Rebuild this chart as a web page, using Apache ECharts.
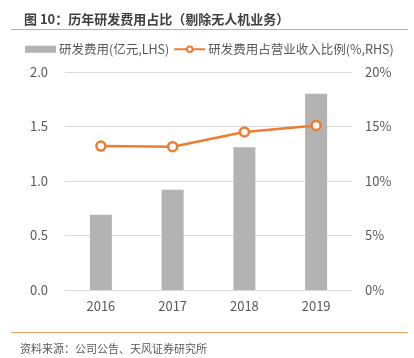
<!DOCTYPE html>
<html><head><meta charset="utf-8">
<script src="https://cdn.jsdelivr.net/npm/echarts@6/dist/echarts.min.js"></script>
<style>html,body{margin:0;padding:0;background:#fff}#c{width:414px;height:358px}</style>
</head><body><div id="c"></div>
<script>
var categories = ['2016', '2017', '2018', '2019'];
var rdExpense = [0.69, 0.92, 1.31, 1.80];
var rdRatio = [13.2, 13.15, 14.5, 15.1];
var leftTicks = [0, 0.5, 1.0, 1.5, 2.0];
var rightTicks = [0, 5, 10, 15, 20];
var titleText = '图 10：历年研发费用占比（剔除无人机业务）';
var sourceText = '资料来源：公司公告、天风证券研究所';
var seriesNames = ['研发费用(亿元,LHS)', '研发费用占营业收入比例(%,RHS)'];

var font = '"Noto Sans CJK SC", "Microsoft YaHei", sans-serif';
var chart = echarts.init(document.getElementById('c'), null, {renderer: 'canvas'});
chart.setOption({
  animation: false,
  textStyle: {fontFamily: font},
  title: {text: titleText, left: 19, top: 8,
    textStyle: {fontSize: 13, fontWeight: 'bold', color: '#404040', fontFamily: font}},
  graphic: [
    {type: 'line', shape: {x1: 11, y1: 29.5, x2: 408, y2: 29.5}, style: {stroke: '#F0A35E', lineWidth: 1.2}},
    {type: 'line', shape: {x1: 11, y1: 332.5, x2: 408, y2: 332.5}, style: {stroke: '#F0A35E', lineWidth: 1.2}},
    {type: 'text', left: 20, top: 343, style: {text: sourceText, fontSize: 11, fill: '#595959', fontFamily: font}}
  ],
  legend: {
    top: 38, left: 20, width: 394, padding: [5, 0, 5, 5], itemGap: 4, itemWidth: 31, itemHeight: 7,
    textStyle: {fontSize: 12.5, color: '#595959', fontFamily: font, padding: [0, 0, 0, -2]},
    data: [
      {name: seriesNames[0], icon: 'rect'},
      {name: seriesNames[1]}
    ]
  },
  grid: {left: 65, right: 62, top: 72, bottom: 68},
  xAxis: {
    type: 'category', data: categories,
    axisLine: {show: true, lineStyle: {color: '#d9d9d9', width: 1}},
    axisTick: {show: false},
    axisLabel: {fontSize: 13, color: '#595959', margin: 10}
  },
  yAxis: [
    {type: 'value', min: 0, max: 2, interval: 0.5,
      axisLine: {show: false}, axisTick: {show: false},
      splitLine: {lineStyle: {color: '#d9d9d9', width: 1}},
      axisLabel: {fontSize: 13, color: '#595959', margin: 17, formatter: function (v) { return v.toFixed(1); }}},
    {type: 'value', min: 0, max: 20, interval: 5,
      axisLine: {show: false}, axisTick: {show: false}, splitLine: {show: false},
      axisLabel: {fontSize: 13, color: '#595959', margin: 13, formatter: '{value}%'}}
  ],
  series: [
    {name: seriesNames[0], type: 'bar', data: rdExpense, barWidth: 22, yAxisIndex: 0,
      itemStyle: {color: '#B3B3B3'}},
    {name: seriesNames[1], type: 'line', data: rdRatio, yAxisIndex: 1,
      symbol: 'circle', symbolSize: 9, showAllSymbol: true,
      lineStyle: {color: '#ED7D31', width: 2.5},
      itemStyle: {color: '#fff', borderColor: '#ED7D31', borderWidth: 2.5}}
  ]
});
</script></body></html>
